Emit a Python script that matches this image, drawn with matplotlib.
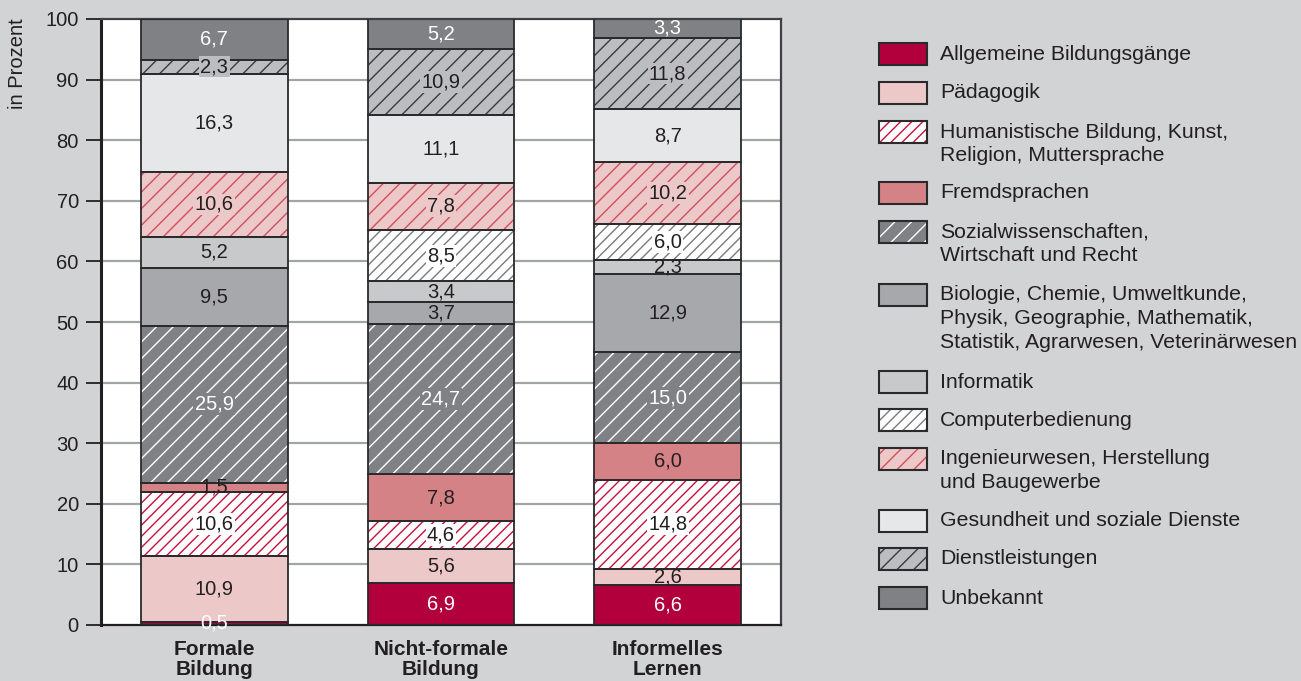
import matplotlib
matplotlib.use("Agg")
import matplotlib.pyplot as plt
from matplotlib.patches import Rectangle
import numpy as np

plt.rcParams['font.family'] = ['Liberation Sans', 'DejaVu Sans']
plt.rcParams['hatch.linewidth'] = 1.0

categories = ["Formale\nBildung", "Nicht-formale\nBildung", "Informelles\nLernen"]

series_names = [
    "Allgemeine Bildungsgänge",
    "Pädagogik",
    "Humanistische Bildung, Kunst,\nReligion, Muttersprache",
    "Fremdsprachen",
    "Sozialwissenschaften,\nWirtschaft und Recht",
    "Biologie, Chemie, Umweltkunde,\nPhysik, Geographie, Mathematik,\nStatistik, Agrarwesen, Veterinärwesen",
    "Informatik",
    "Computerbedienung",
    "Ingenieurwesen, Herstellung\nund Baugewerbe",
    "Gesundheit und soziale Dienste",
    "Dienstleistungen",
    "Unbekannt",
]

allgemeine = [0.5, 6.9, 6.6]
paedagogik = [10.9, 5.6, 2.6]
humanistische = [10.6, 4.6, 14.8]
fremdsprachen = [1.5, 7.8, 6.0]
sozialwiss = [25.9, 24.7, 15.0]
biologie = [9.5, 3.7, 12.9]
informatik = [5.2, 3.4, 2.3]
computer = [0.0, 8.5, 6.0]
ingenieur = [10.6, 7.8, 10.2]
gesundheit = [16.3, 11.1, 8.7]
dienstleistungen = [2.3, 10.9, 11.8]
unbekannt = [6.7, 5.2, 3.3]

series_values = [allgemeine, paedagogik, humanistische, fremdsprachen, sozialwiss,
                 biologie, informatik, computer, ingenieur, gesundheit,
                 dienstleistungen, unbekannt]

yticks = [0, 10, 20, 30, 40, 50, 60, 70, 80, 90, 100]

# styles: (facecolor, hatch, hatchcolor, label text color)
styles = [
    ("#b2003c", None, None, "white"),
    ("#ecc8c8", None, None, "#231f20"),
    ("#ffffff", "///", "#c8103e", "#231f20"),
    ("#d48286", None, None, "#231f20"),
    ("#808184", "//", "#ffffff", "white"),
    ("#a7a8ab", None, None, "#231f20"),
    ("#c8c9cb", None, None, "#231f20"),
    ("#ffffff", "///", "#7a7a7c", "#231f20"),
    ("#ecc8c8", "//", "#d0505e", "#231f20"),
    ("#e6e7e9", None, None, "#231f20"),
    ("#bcbdc0", "//", "#3a3a3c", "#231f20"),
    ("#808184", None, None, "white"),
]

TXT = "#231f20"
W, H = 1301, 681
fig = plt.figure(figsize=(W / 100, H / 100), dpi=100)
fig.patch.set_facecolor("#d1d3d4")

ax = fig.add_axes([101 / W, 1 - 625 / H, (781 - 101) / W, (625 - 19) / H])
ax.set_facecolor("white")
x = np.arange(len(categories))
width = 0.648
bottom = np.zeros(len(categories))

for vals, (fc, hatch, hc, tc) in zip(series_values, styles):
    vals = np.array(vals, dtype=float)
    if hatch:
        ax.bar(x, vals, width, bottom=bottom, color=fc, edgecolor=hc, hatch=hatch,
               linewidth=0, zorder=2)
    else:
        ax.bar(x, vals, width, bottom=bottom, color=fc, linewidth=0, zorder=2)
    ax.bar(x, vals, width, bottom=bottom, fill=False, edgecolor="#2a2a2c",
           linewidth=1.3, zorder=3)
    for xi, v, b in zip(x, vals, bottom):
        if v <= 0:
            continue
        kw = dict(ha="center", va="center", fontsize=14.5, color=tc, zorder=5)
        if hatch:
            kw["bbox"] = dict(facecolor=fc, edgecolor="none", pad=1.0)
        ax.text(xi, b + v / 2, f"{v:.1f}".replace(".", ","), **kw)
    bottom += vals

ax.set_xlim(-0.5, 2.5)
ax.set_ylim(0, 100)
ax.set_yticks(yticks)
ax.set_yticklabels([str(t) for t in yticks], fontsize=14.5, color=TXT)
ax.tick_params(axis="y", length=11, width=1.3, color="#231f20", pad=5)
ax.set_xticks(x)
ax.set_xticklabels(categories, fontsize=15, fontweight="bold", color=TXT,
                   linespacing=1.08)
ax.tick_params(axis="x", length=0, pad=10.5)
for t in yticks[1:-1]:
    ax.axhline(t, color="#a3a4a6", linewidth=1.6, zorder=1)
ax.spines["left"].set_linewidth(2.2)
ax.spines["left"].set_color("#231f20")
ax.spines["bottom"].set_linewidth(1.6)
ax.spines["bottom"].set_color("#231f20")
for s in ("top", "right"):
    ax.spines[s].set_linewidth(1.6)
    ax.spines[s].set_color("#404042")

fig.text(18 / W, 1 - 64 / H, "in Prozent", rotation=90, ha="center", va="center",
         fontsize=14.5, color=TXT)

# legend drawn in pixel coordinates
lax = fig.add_axes([0, 0, 1, 1])
lax.set_xlim(0, W)
lax.set_ylim(H, 0)
lax.axis("off")
first_line_y = [54, 93, 132, 193, 232, 295, 382, 420, 459, 521, 559, 598]
for name, (fc, hatch, hc, tc), yy in zip(series_names, styles, first_line_y):
    if hatch:
        lax.add_patch(Rectangle((879, yy - 11), 48, 22, facecolor=fc, edgecolor=hc,
                                hatch=hatch, linewidth=0))
    else:
        lax.add_patch(Rectangle((879, yy - 11), 48, 22, facecolor=fc, linewidth=0))
    lax.add_patch(Rectangle((879, yy - 11), 48, 22, fill=False, edgecolor="#2a2a2c",
                            linewidth=1.5))
    for i, line in enumerate(name.split("\n")):
        lax.text(940, yy + i * 23.5, line, ha="left", va="center", fontsize=15.3,
                 color=TXT)

fig.savefig("out.png", dpi=100, facecolor=fig.get_facecolor())
